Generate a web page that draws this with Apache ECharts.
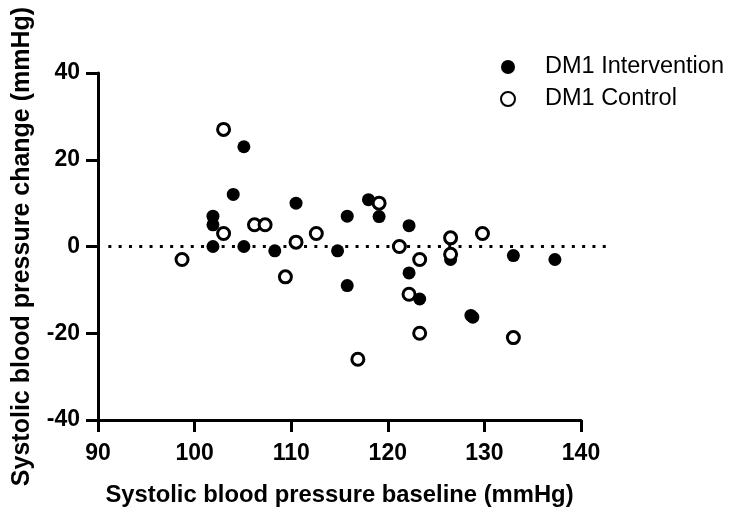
<!DOCTYPE html>
<html>
<head>
<meta charset="utf-8">
<script src="https://cdn.jsdelivr.net/npm/echarts@6/dist/echarts.min.js"></script>
<style>html,body{margin:0;padding:0;background:#fff}#c{width:732px;height:513px}</style>
</head>
<body>
<div id="c"></div>
<script>
var interventionX = [101.9,101.9,101.9,104.0,105.1,105.1,108.3,110.5,114.8,115.8,115.8,118.0,119.1,122.2,122.2,123.3,126.5,128.6,128.8,133.0,137.3];
var interventionY = [7,5,0,12,23,0,-1,10,-1,7,-9,10.8,6.9,4.8,-6.1,-12.1,-3,-15.9,-16.3,-2.1,-3];
var controlX = [98.7,103.0,103.0,106.2,107.3,109.4,110.5,112.6,116.9,119.1,121.2,122.2,123.3,123.3,126.5,126.5,129.8,133.0];
var controlY = [-3,27,3,5,5,-7,1,3,-26,10,0,-11,-3,-20,2,-1.8,3,-21];
var refLineX = [91.07, 142.72];
var refLineY = [0, 0];
var xTicks = [90,100,110,120,130,140];
var yTicks = [-40,-20,0,20,40];

function pairs(xs, ys){ return xs.map(function(x,i){ return [x, ys[i]]; }); }

var font = 'Liberation Sans, Arial, Helvetica, sans-serif';
var chart = echarts.init(document.getElementById('c'), null, {renderer:'canvas'});
chart.setOption({
  animation:false,
  backgroundColor:'#fff',
  grid:[
    {left:98, right:151, top:73, bottom:93, outerBoundsMode:'none', containLabel:false},
    {left:98, right:124.5, top:73, bottom:93, outerBoundsMode:'none', containLabel:false}
  ],
  legend:{
    orient:'vertical', left:495, top:50, itemWidth:14, itemHeight:14, itemGap:8,
    textStyle:{fontFamily:font, fontSize:23.5, color:'#000', padding:[0,0,0,25]},
    data:['DM1 Intervention','DM1 Control']
  },
  xAxis:[{
    type:'value', gridIndex:0, min:xTicks[0], max:xTicks[xTicks.length-1], interval:10,
    name:'Systolic blood pressure baseline (mmHg)', nameLocation:'middle', nameGap:63,
    nameTextStyle:{fontFamily:font, fontSize:23.8, fontWeight:'bold', color:'#000'},
    axisLine:{show:true, onZero:false, lineStyle:{color:'#000', width:3}},
    axisTick:{show:true, length:12, lineStyle:{color:'#000', width:3}},
    axisLabel:{fontFamily:font, fontSize:23, fontWeight:'bold', color:'#000', margin:22},
    splitLine:{show:false}
  },{
    type:'value', gridIndex:1, min:90, max:142.72, show:false
  }],
  yAxis:[{
    type:'value', gridIndex:0, min:yTicks[0], max:yTicks[yTicks.length-1], interval:20,
    name:'Systolic blood pressure change (mmHg)', nameLocation:'middle', nameGap:63, nameRotate:90,
    nameTextStyle:{fontFamily:font, fontSize:25, fontWeight:'bold', color:'#000'},
    axisLine:{show:true, onZero:false, lineStyle:{color:'#000', width:3}},
    axisTick:{show:true, length:12, lineStyle:{color:'#000', width:3}},
    axisLabel:{fontFamily:font, fontSize:23, fontWeight:'bold', color:'#000', margin:18},
    splitLine:{show:false}
  },{
    type:'value', gridIndex:1, min:-40, max:40, show:false
  }],
  series:[
    {
      type:'line', xAxisIndex:1, yAxisIndex:1, data:pairs(refLineX, refLineY), symbol:'none', silent:true,
      lineStyle:{color:'#000', width:3, type:[3,7.3]}, z:1
    },
    {
      name:'DM1 Intervention', type:'scatter', data:pairs(interventionX, interventionY),
      symbol:'circle', symbolSize:13, itemStyle:{color:'#000', opacity:1}, z:3
    },
    {
      name:'DM1 Control', type:'scatter', data:pairs(controlX, controlY),
      symbol:'circle', symbolSize:12, itemStyle:{color:'#fff', borderColor:'#000', borderWidth:3, opacity:1}, z:4
    }
  ]
});
</script>
</body>
</html>
